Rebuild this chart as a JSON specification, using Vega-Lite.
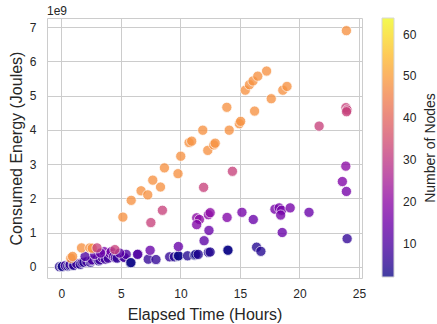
{
  "$schema": "https://vega.github.io/schema/vega-lite/v6.json",
  "autosize": {"type": "none"},
  "padding": {"left": 47, "top": 18, "right": 75, "bottom": 46},
  "width": 315,
  "height": 260,
  "background": "white",
  "title": {"text": "1e9", "anchor": "start", "frame": "group", "fontSize": 12, "fontWeight": "normal", "offset": 0, "color": "#262626"},
  "config": {
    "font": "Liberation Sans",
    "view": {"stroke": "#cccccc", "strokeWidth": 1},
    "axis": {"domain": false, "ticks": false, "tickSize": 0, "gridColor": "#cccccc", "gridWidth": 1, "labelColor": "#262626", "titleColor": "#262626", "labelFontSize": 12, "titleFontSize": 16, "titleFontWeight": "normal"},
    "legend": {"labelColor": "#262626", "titleColor": "#262626", "labelFontSize": 12, "titleFontSize": 14, "titleFontWeight": "normal"}
  },
  "data": {"values": [
    {"t": -0.15, "e": 0.0, "n": 4}, {"t": 0.05, "e": 0.0, "n": 4}, {"t": 0.1, "e": 0.01e9, "n": 2}, {"t": 0.35, "e": 0.03e9, "n": 8},
    {"t": 0.55, "e": 0.02e9, "n": 4}, {"t": 0.7, "e": 0.03e9, "n": 2}, {"t": 0.75, "e": 0.06e9, "n": 8}, {"t": 1.0, "e": 0.05e9, "n": 8},
    {"t": 1.05, "e": 0.04e9, "n": 4}, {"t": 1.3, "e": 0.09e9, "n": 8}, {"t": 1.6, "e": 0.07e9, "n": 4}, {"t": 1.75, "e": 0.12e9, "n": 8},
    {"t": 1.9, "e": 0.13e9, "n": 4}, {"t": 2.15, "e": 0.15e9, "n": 8}, {"t": 2.45, "e": 0.13e9, "n": 4}, {"t": 2.5, "e": 0.18e9, "n": 8},
    {"t": 2.6, "e": 0.20e9, "n": 10}, {"t": 3.0, "e": 0.24e9, "n": 10}, {"t": 3.15, "e": 0.17e9, "n": 4}, {"t": 3.25, "e": 0.20e9, "n": 8},
    {"t": 3.45, "e": 0.27e9, "n": 10}, {"t": 3.6, "e": 0.44e9, "n": 16}, {"t": 3.7, "e": 0.22e9, "n": 8}, {"t": 3.95, "e": 0.25e9, "n": 8},
    {"t": 4.1, "e": 0.39e9, "n": 14}, {"t": 4.2, "e": 0.44e9, "n": 16}, {"t": 4.4, "e": 0.30e9, "n": 10}, {"t": 4.55, "e": 0.26e9, "n": 8},
    {"t": 4.7, "e": 0.25e9, "n": 6}, {"t": 5.2, "e": 0.28e9, "n": 10}, {"t": 5.3, "e": 0.27e9, "n": 8}, {"t": 5.45, "e": 0.36e9, "n": 10},
    {"t": 2.0, "e": 0.30e9, "n": 10}, {"t": 2.8, "e": 0.36e9, "n": 12}, {"t": 3.3, "e": 0.40e9, "n": 14}, {"t": 4.9, "e": 0.40e9, "n": 12},
    {"t": 0.8, "e": 0.25e9, "n": 48}, {"t": 0.95, "e": 0.30e9, "n": 48}, {"t": 1.7, "e": 0.55e9, "n": 48}, {"t": 2.4, "e": 0.55e9, "n": 48},
    {"t": 2.6, "e": 0.54e9, "n": 48}, {"t": 3.0, "e": 0.55e9, "n": 32}, {"t": 4.5, "e": 0.50e9, "n": 32},
    {"t": 5.8, "e": 0.11e9, "n": 2}, {"t": 5.85, "e": 0.12e9, "n": 2}, {"t": 6.45, "e": 0.37e9, "n": 12}, {"t": 6.4, "e": 0.36e9, "n": 10},
    {"t": 7.3, "e": 0.22e9, "n": 6}, {"t": 7.46, "e": 0.48e9, "n": 14}, {"t": 7.95, "e": 0.21e9, "n": 6}, {"t": 9.1, "e": 0.29e9, "n": 6},
    {"t": 9.5, "e": 0.29e9, "n": 4}, {"t": 9.8, "e": 0.31e9, "n": 2}, {"t": 9.85, "e": 0.32e9, "n": 2}, {"t": 9.83, "e": 0.59e9, "n": 14},
    {"t": 10.6, "e": 0.32e9, "n": 4}, {"t": 11.2, "e": 0.34e9, "n": 2}, {"t": 11.3, "e": 0.36e9, "n": 2}, {"t": 11.5, "e": 0.36e9, "n": 4},
    {"t": 12.35, "e": 0.42e9, "n": 4}, {"t": 12.5, "e": 0.43e9, "n": 4}, {"t": 13.97, "e": 0.49e9, "n": 2}, {"t": 14.0, "e": 0.48e9, "n": 2},
    {"t": 16.4, "e": 0.57e9, "n": 4}, {"t": 16.76, "e": 0.45e9, "n": 4},
    {"t": 11.37, "e": 1.43e9, "n": 20}, {"t": 11.6, "e": 1.38e9, "n": 20}, {"t": 11.37, "e": 1.23e9, "n": 18}, {"t": 12.35, "e": 1.52e9, "n": 20},
    {"t": 12.5, "e": 1.58e9, "n": 20}, {"t": 13.92, "e": 1.44e9, "n": 18}, {"t": 15.17, "e": 1.59e9, "n": 16}, {"t": 16.12, "e": 1.38e9, "n": 14},
    {"t": 17.94, "e": 1.68e9, "n": 16}, {"t": 18.3, "e": 1.72e9, "n": 16}, {"t": 18.5, "e": 1.65e9, "n": 16}, {"t": 18.42, "e": 1.51e9, "n": 16},
    {"t": 19.22, "e": 1.72e9, "n": 16}, {"t": 20.8, "e": 1.59e9, "n": 14}, {"t": 18.55, "e": 1.0e9, "n": 14}, {"t": 12.4, "e": 1.06e9, "n": 14},
    {"t": 11.99, "e": 0.76e9, "n": 12}, {"t": 23.89, "e": 2.94e9, "n": 20}, {"t": 23.6, "e": 2.49e9, "n": 18}, {"t": 23.94, "e": 2.2e9, "n": 16},
    {"t": 24.0, "e": 0.82e9, "n": 6},
    {"t": 7.52, "e": 1.29e9, "n": 32}, {"t": 8.49, "e": 1.65e9, "n": 32}, {"t": 11.95, "e": 2.32e9, "n": 32}, {"t": 14.37, "e": 2.79e9, "n": 32},
    {"t": 21.65, "e": 4.11e9, "n": 32}, {"t": 23.9, "e": 4.65e9, "n": 32}, {"t": 24.0, "e": 4.58e9, "n": 32}, {"t": 23.95, "e": 4.53e9, "n": 32},
    {"t": 5.17, "e": 1.45e9, "n": 48}, {"t": 5.87, "e": 1.94e9, "n": 48}, {"t": 6.7, "e": 2.22e9, "n": 48}, {"t": 7.26, "e": 2.10e9, "n": 48},
    {"t": 7.68, "e": 2.53e9, "n": 48}, {"t": 8.33, "e": 2.33e9, "n": 48}, {"t": 8.66, "e": 2.89e9, "n": 48}, {"t": 9.8, "e": 2.72e9, "n": 48},
    {"t": 10.03, "e": 3.23e9, "n": 48}, {"t": 10.73, "e": 3.63e9, "n": 48}, {"t": 10.95, "e": 3.67e9, "n": 48}, {"t": 11.88, "e": 3.99e9, "n": 48},
    {"t": 12.3, "e": 3.40e9, "n": 48}, {"t": 12.8, "e": 3.56e9, "n": 48}, {"t": 12.92, "e": 3.61e9, "n": 48}, {"t": 13.9, "e": 4.66e9, "n": 48},
    {"t": 14.1, "e": 3.99e9, "n": 48}, {"t": 14.95, "e": 4.18e9, "n": 48}, {"t": 15.06, "e": 4.25e9, "n": 48}, {"t": 15.45, "e": 5.16e9, "n": 48},
    {"t": 15.8, "e": 5.32e9, "n": 48}, {"t": 16.1, "e": 5.43e9, "n": 48}, {"t": 16.5, "e": 5.57e9, "n": 48}, {"t": 17.24, "e": 5.72e9, "n": 48},
    {"t": 16.23, "e": 4.55e9, "n": 48}, {"t": 17.63, "e": 4.91e9, "n": 48}, {"t": 18.6, "e": 5.16e9, "n": 48}, {"t": 18.95, "e": 5.27e9, "n": 48},
    {"t": 23.94, "e": 6.90e9, "n": 48}
  ]},
  "mark": {"type": "circle", "size": 105, "opacity": 0.78, "stroke": "white", "strokeWidth": 0.8},
  "encoding": {
    "x": {"field": "t", "type": "quantitative", "title": "Elapsed Time (Hours)",
      "scale": {"domain": [-1.2, 25.25], "nice": false, "zero": false},
      "axis": {"values": [0, 5, 10, 15, 20, 25], "labelPadding": 10, "titlePadding": 7}},
    "y": {"field": "e", "type": "quantitative", "title": "Consumed Energy (Joules)",
      "scale": {"domain": [-0.33e9, 7.27e9], "nice": false, "zero": false},
      "axis": {"values": [0, 1e9, 2e9, 3e9, 4e9, 5e9, 6e9, 7e9], "labelExpr": "format(datum.value / 1e9, 'd')", "labelPadding": 11, "titlePadding": 5}},
    "color": {"field": "n", "type": "quantitative", "title": "Number of Nodes",
      "scale": {"scheme": "plasma", "domain": [2, 64]},
      "legend": {"orient": "right", "offset": 20, "direction": "vertical", "gradientLength": 259, "gradientThickness": 12,
        "gradientStrokeColor": "#cccccc", "gradientStrokeWidth": 1, "values": [10, 20, 30, 40, 50, 60],
        "labelOffset": 9, "titleOrient": "right", "titleAnchor": "middle", "titleBaseline": "top", "titlePadding": 8,
        "encoding": {"title": {"angle": {"value": -90}}}}}
  }
}
